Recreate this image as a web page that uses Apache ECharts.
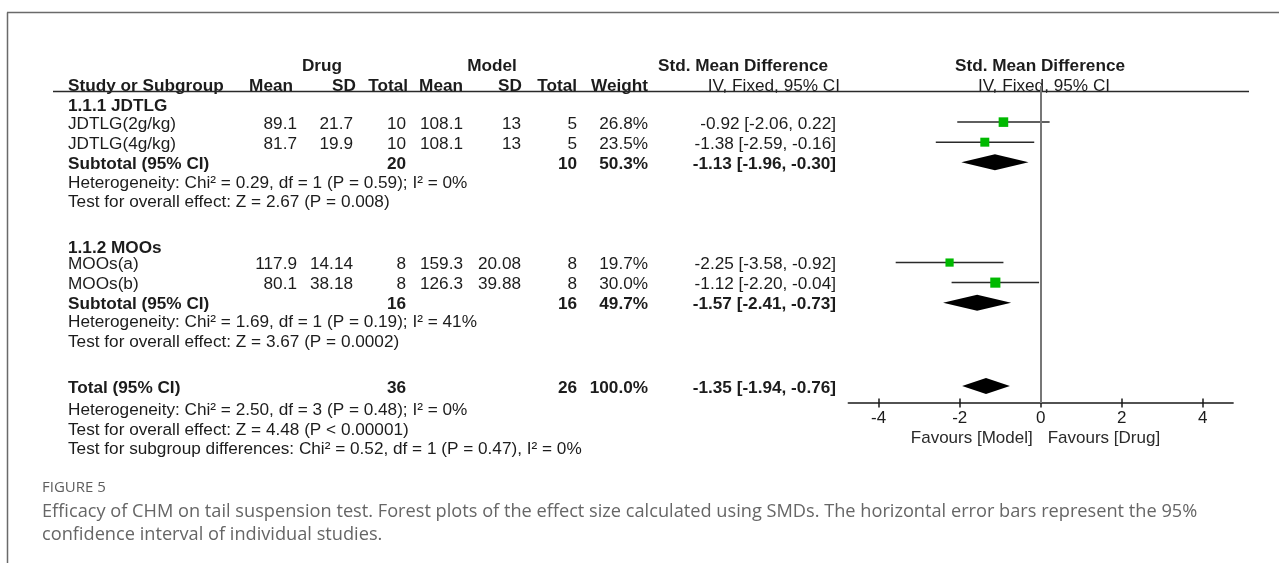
<!DOCTYPE html>
<html><head><meta charset="utf-8">
<script src="https://cdn.jsdelivr.net/npm/echarts@6/dist/echarts.min.js"></script>
<style>html,body{margin:0;padding:0;background:#fff;}#c{width:1279px;height:563px;}</style>
</head><body><div id="c"></div>
<script>
// ---------- data ----------
const studies = ['JDTLG(2g/kg)', 'JDTLG(4g/kg)', 'MOOs(a)', 'MOOs(b)'];
const drugMean = [89.1, 81.7, 117.9, 80.1];
const drugSD = [21.7, 19.9, 14.14, 38.18];
const drugN = [10, 10, 8, 8];
const modelMean = [108.1, 108.1, 159.3, 126.3];
const modelSD = [13, 13, 20.08, 39.88];
const modelN = [5, 5, 8, 8];
const weight = [26.8, 23.5, 19.7, 30.0];
const smd = [-0.92, -1.38, -2.25, -1.12];
const ciLow = [-2.06, -2.59, -3.58, -2.20];
const ciHigh = [0.22, -0.16, -0.92, -0.04];

const groupNames = ['1.1.1 JDTLG', '1.1.2 MOOs'];
const groupDrugN = [20, 16];
const groupModelN = [10, 16];
const groupWeight = [50.3, 49.7];
const groupSmd = [-1.13, -1.57];
const groupLow = [-1.96, -2.41];
const groupHigh = [-0.30, -0.73];
const groupHet = ['Heterogeneity: Chi\u00b2 = 0.29, df = 1 (P = 0.59); I\u00b2 = 0%',
                  'Heterogeneity: Chi\u00b2 = 1.69, df = 1 (P = 0.19); I\u00b2 = 41%'];
const groupTest = ['Test for overall effect: Z = 2.67 (P = 0.008)',
                   'Test for overall effect: Z = 3.67 (P = 0.0002)'];

const totalDrugN = 36, totalModelN = 26, totalWeight = 100.0;
const totalSmd = -1.35, totalLow = -1.94, totalHigh = -0.76;
const totalNotes = ['Heterogeneity: Chi\u00b2 = 2.50, df = 3 (P = 0.48); I\u00b2 = 0%',
                    'Test for overall effect: Z = 4.48 (P < 0.00001)',
                    'Test for subgroup differences: Chi\u00b2 = 0.52, df = 1 (P = 0.47), I\u00b2 = 0%'];

const xTicks = [-4, -2, 0, 2, 4];
const favourLabels = ['Favours [Model]', 'Favours [Drug]'];
const headerTop = ['Drug', 'Model', 'Std. Mean Difference', 'Std. Mean Difference'];
const headerCols = ['Study or Subgroup', 'Mean', 'SD', 'Total', 'Mean', 'SD', 'Total', 'Weight', 'IV, Fixed, 95% CI', 'IV, Fixed, 95% CI'];
const figLabel = 'FIGURE 5';
const captionLines = ['Efficacy of CHM on tail suspension test. Forest plots of the effect size calculated using SMDs. The horizontal error bars represent the 95%',
                      'confidence interval of individual studies.'];

// ---------- layout ----------
const studyGroup = [0, 0, 1, 1];
const studyRow = [1, 2, 8, 9];
const groupHeadRow = [0.1, 7.2];
const subRow = [3, 10];
const hetRow = [3.95, 10.9];
const testRow = [4.9, 11.85];
const totalRow = 14.15;
const totalNoteRow = [15.25, 16.25, 17.2];
const COL = {name: 68, dMean: 297, dSD: 353, dN: 406, mMean: 463, mSD: 521, mN: 577, w: 648, ci: 836};
const FONT = '"Liberation Sans", Arial, Helvetica, sans-serif';
const TXT = '#1c1c1c';
const FS = 17.2;

const fmtCI = (m, l, h) => m.toFixed(2) + ' [' + l.toFixed(2) + ', ' + h.toFixed(2) + ']';

const chart = echarts.init(document.getElementById('c'));

const studyData = studies.map((s, i) => [smd[i], ciLow[i], ciHigh[i], studyRow[i], weight[i]]);
const diamondData = groupNames.map((g, i) => [groupSmd[i], groupLow[i], groupHigh[i], subRow[i]])
  .concat([[totalSmd, totalLow, totalHigh, totalRow]]);

chart.setOption({
  animation: false,
  grid: {left: 848.3, right: 45.9, top: 86, bottom: 160},
  xAxis: [{
    type: 'value', min: -4.75, max: 4.75, position: 'bottom',
    axisLine: {show: true, onZero: false, lineStyle: {color: '#1a1a1a', width: 1.5}},
    axisTick: {show: true, customValues: xTicks, length: 4.5, lineStyle: {color: '#1a1a1a', width: 1.5}},
    axisLabel: {show: true, customValues: xTicks, margin: 7, color: TXT, fontSize: 17, fontFamily: FONT},
    splitLine: {show: false}
  }, {
    type: 'value', min: -4.75, max: 4.75, position: 'bottom',
    axisLine: {show: false, onZero: false},
    axisTick: {show: true, inside: true, customValues: xTicks, length: 4.5, lineStyle: {color: '#1a1a1a', width: 1.5}},
    axisLabel: {show: false},
    splitLine: {show: false}
  }],
  yAxis: {type: 'value', inverse: true, min: -0.8, max: 15.0, show: false,
          axisLine: {onZero: false}, splitLine: {show: false}},
  series: [{
    type: 'custom', name: 'studies', xAxisIndex: 0, yAxisIndex: 0, clip: false,
    data: studyData,
    renderItem: function (params, api) {
      const c = api.coord([api.value(0), api.value(3)]);
      const l = api.coord([api.value(1), api.value(3)]);
      const h = api.coord([api.value(2), api.value(3)]);
      const s = 1.85 * Math.sqrt(api.value(4));
      return {type: 'group', children: [
        {type: 'line', shape: {x1: l[0], y1: l[1], x2: h[0], y2: h[1]}, style: {stroke: '#2a2a2a', lineWidth: 1.5}},
        {type: 'rect', shape: {x: c[0] - s / 2, y: c[1] - s / 2, width: s, height: s}, style: {fill: '#00b900'}}
      ]};
    },
    markLine: {silent: true, symbol: 'none', label: {show: false},
      lineStyle: {color: '#777777', width: 2, type: 'solid'}, data: [{xAxis: 0}]},
    z: 3
  }, {
    type: 'custom', name: 'pooled', xAxisIndex: 0, yAxisIndex: 0, clip: false,
    data: diamondData,
    renderItem: function (params, api) {
      const c = api.coord([api.value(0), api.value(3)]);
      const l = api.coord([api.value(1), api.value(3)]);
      const h = api.coord([api.value(2), api.value(3)]);
      const hh = 8;
      return {type: 'polygon', shape: {points: [[l[0], l[1]], [c[0], c[1] - hh], [h[0], h[1]], [c[0], c[1] + hh]]},
              style: {fill: '#000000'}};
    },
    z: 4
  }]
});

// ---------- text (graphic) ----------
const yp = r => chart.convertToPixel({yAxisIndex: 0}, r) + 2;
const x0 = chart.convertToPixel({xAxisIndex: 0}, 0);
const els = [];
function T(x, y, s, align, bold, opts) {
  opts = opts || {};
  els.push({type: 'text', x: x, y: y, silent: true, style: {
    text: s, fill: opts.fill || TXT,
    font: (bold ? 'bold ' : '') + (opts.size || FS) + 'px ' + (opts.family || FONT),
    textAlign: align, align: align, textVerticalAlign: 'middle', verticalAlign: 'middle'}});
}
function L(x1, y1, x2, y2, color, w) {
  els.push({type: 'line', silent: true, shape: {x1: x1, y1: y1, x2: x2, y2: y2}, style: {stroke: color, lineWidth: w}});
}
// frame
L(7, 12.5, 1279, 12.5, '#6a6a6a', 1.5);
L(7.5, 12.5, 7.5, 563, '#6a6a6a', 1.5);
// headers
const H1 = 66, H2 = 86;
T(322, H1, headerTop[0], 'center', true);
T(492, H1, headerTop[1], 'center', true);
T(743, H1, headerTop[2], 'center', true);
T(1040, H1, headerTop[3], 'center', true);
T(COL.name, H2, headerCols[0], 'left', true);
T(293, H2, headerCols[1], 'right', true);
T(356, H2, headerCols[2], 'right', true);
T(408, H2, headerCols[3], 'right', true);
T(463, H2, headerCols[4], 'right', true);
T(522, H2, headerCols[5], 'right', true);
T(577, H2, headerCols[6], 'right', true);
T(648, H2, headerCols[7], 'right', true);
T(840, H2, headerCols[8], 'right', false);
T(1044, H2, headerCols[9], 'center', false);
L(53, 91.5, 1249, 91.5, '#2a2a2a', 1.3);

// groups
groupNames.forEach((g, gi) => {
  T(COL.name, yp(groupHeadRow[gi]), g, 'left', true);
  studies.forEach((s, i) => {
    if (studyGroup[i] !== gi) return;
    const y = yp(studyRow[i]);
    T(COL.name, y, s, 'left', false);
    T(COL.dMean, y, String(drugMean[i]), 'right', false);
    T(COL.dSD, y, String(drugSD[i]), 'right', false);
    T(COL.dN, y, String(drugN[i]), 'right', false);
    T(COL.mMean, y, String(modelMean[i]), 'right', false);
    T(COL.mSD, y, String(modelSD[i]), 'right', false);
    T(COL.mN, y, String(modelN[i]), 'right', false);
    T(COL.w, y, weight[i].toFixed(1) + '%', 'right', false);
    T(COL.ci, y, fmtCI(smd[i], ciLow[i], ciHigh[i]), 'right', false);
  });
  const ys = yp(subRow[gi]);
  T(COL.name, ys, 'Subtotal (95% CI)', 'left', true);
  T(COL.dN, ys, String(groupDrugN[gi]), 'right', true);
  T(COL.mN, ys, String(groupModelN[gi]), 'right', true);
  T(COL.w, ys, groupWeight[gi].toFixed(1) + '%', 'right', true);
  T(COL.ci, ys, fmtCI(groupSmd[gi], groupLow[gi], groupHigh[gi]), 'right', true);
  T(COL.name, yp(hetRow[gi]), groupHet[gi], 'left', false);
  T(COL.name, yp(testRow[gi]), groupTest[gi], 'left', false);
});
// total
const yt = yp(totalRow);
T(COL.name, yt, 'Total (95% CI)', 'left', true);
T(COL.dN, yt, String(totalDrugN), 'right', true);
T(COL.mN, yt, String(totalModelN), 'right', true);
T(COL.w, yt, totalWeight.toFixed(1) + '%', 'right', true);
T(COL.ci, yt, fmtCI(totalSmd, totalLow, totalHigh), 'right', true);
totalNotes.forEach((n, i) => T(COL.name, yp(totalNoteRow[i]), n, 'left', false));

// favours labels
T(x0 - 8, 438, favourLabels[0], 'right', false, {fill: '#2a2a2a', size: 17});
T(x0 + 7, 438, favourLabels[1], 'left', false, {fill: '#2a2a2a', size: 17});

// caption
const CAP = '"Open Sans", "Noto Sans", sans-serif';
T(42, 488, figLabel, 'left', false, {fill: '#5e5e5e', size: 15, family: CAP});
T(42, 512, captionLines[0], 'left', false, {fill: '#666666', size: 18.2, family: CAP});
T(42, 535, captionLines[1], 'left', false, {fill: '#666666', size: 18.2, family: CAP});

chart.setOption({graphic: {elements: els}});
</script></body></html>
